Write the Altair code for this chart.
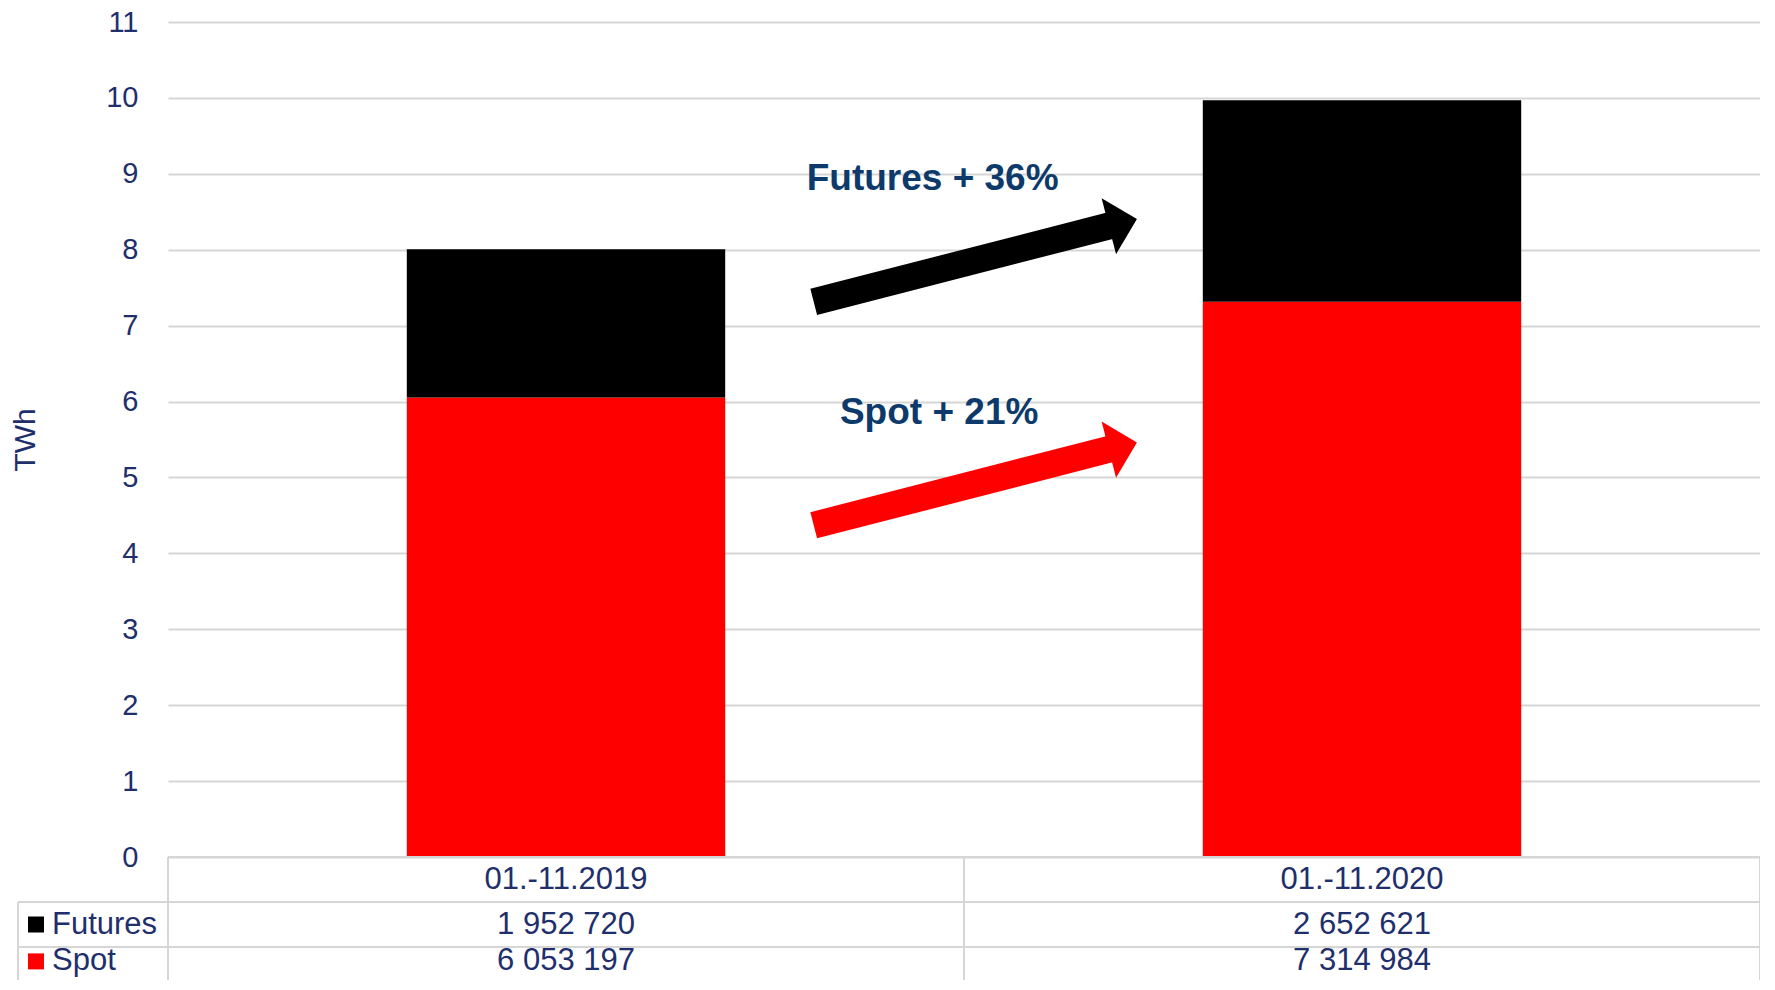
import altair as alt
import pandas as pd

# ---------------- data ----------------
periods = ["01.-11.2019", "01.-11.2020"]
series = ["Futures", "Spot"]
series_colors = ["#000000", "#ff0000"]
futures_mwh = [1952720, 2652621]
spot_mwh = [6053197, 7314984]
y_ticks = list(range(0, 12))

annot_text = ["Futures + 36%", "Spot + 21%"]
# annotation anchors in data units (x: fraction of plot width, y: TWh)
annot_x = [0.4803, 0.4844]
annot_y = [8.93, 5.85]
arrow_x0 = [0.4056, 0.4056]
arrow_y0 = [7.313, 4.370]
arrow_x1 = [0.5925, 0.5925]
arrow_y1 = [8.321, 5.378]
head_x = [0.5998, 0.5998]
head_y = [8.357, 5.414]

# ---------------- layout ----------------
W, H = 1592, 835
Y_MAX = 11
PX = H / Y_MAX          # pixels per TWh
ROW = 45 / PX           # table row height (in TWh units)
LABEL_LEFT = -150 / W   # left edge of the row-label column (fraction of width)
NAVY = "#1f2f6b"
GRID = "#d6d6d6"
FONT = "Liberation Sans"

# ---------------- frames ----------------
bar_rows = []
for i, p in enumerate(periods):
    bar_rows.append({"period": p, "series": "Spot", "value": spot_mwh[i] / 1e6, "order": 0})
    bar_rows.append({"period": p, "series": "Futures", "value": futures_mwh[i] / 1e6, "order": 1})
bar_df = pd.DataFrame(bar_rows)

def fmt(v):
    return f"{v:,}".replace(",", " ")

cell_x = [0.25, 0.75]
row_center = [-0.5 * ROW, -1.5 * ROW, -2.32 * ROW]
table_rows = []
for i in range(2):
    table_rows.append({"x": cell_x[i], "y": row_center[0], "t": periods[i]})
    table_rows.append({"x": cell_x[i], "y": row_center[1], "t": fmt(futures_mwh[i])})
    table_rows.append({"x": cell_x[i], "y": row_center[2], "t": fmt(spot_mwh[i])})
table_df = pd.DataFrame(table_rows)

label_df = pd.DataFrame({
    "x": [LABEL_LEFT + 34 / W] * 2,
    "sx": [LABEL_LEFT + 18 / W] * 2,
    "y": row_center[1:],
    "series": series,
})

hline_df = pd.DataFrame({
    "x": [0, LABEL_LEFT, LABEL_LEFT],
    "x2": [1, 1, 1],
    "y": [0, -ROW, -2 * ROW],
})
vline_df = pd.DataFrame({
    "x": [LABEL_LEFT, 0, 0.5, 1],
    "y": [-ROW, 0, 0, 0],
    "y2": [-3 * ROW] * 4,
})

arrow_df = pd.DataFrame({
    "series": series, "x0": arrow_x0, "y0": arrow_y0, "x1": arrow_x1, "y1": arrow_y1,
    "hx": head_x, "hy": head_y,
})
annot_df = pd.DataFrame({"t": annot_text, "x": annot_x, "y": annot_y})

# ---------------- encodings ----------------
yscale = alt.Scale(domain=[0, Y_MAX], nice=False, zero=False)
xscale = alt.Scale(domain=[0, 1], nice=False, zero=False)
cscale = alt.Scale(domain=series, range=series_colors)

def X(f):
    return alt.X(f, type="quantitative", scale=xscale, axis=None)

def Y(f):
    return alt.Y(f, type="quantitative", scale=yscale, axis=None)

bars = alt.Chart(bar_df).mark_bar().encode(
    x=alt.X("period:N", sort=periods, axis=None,
            scale=alt.Scale(paddingInner=0.6, paddingOuter=0.3)),
    y=alt.Y("value:Q", stack="zero", scale=yscale,
            axis=alt.Axis(values=y_ticks, title="TWh", grid=True, ticks=False, tickSize=0,
                          domain=False, labelPadding=30, labelFont=FONT, labelFontSize=29,
                          labelColor=NAVY, gridColor=GRID, gridWidth=2,
                          titleFont=FONT, titleFontSize=30, titleFontWeight="normal",
                          titleColor=NAVY, titlePadding=65)),
    color=alt.Color("series:N", scale=cscale, legend=None),
    order=alt.Order("order:Q"),
)

hlines = alt.Chart(hline_df).mark_rule(color=GRID, strokeWidth=2).encode(
    x=X("x"), x2="x2", y=Y("y"))
vlines = alt.Chart(vline_df).mark_rule(color=GRID, strokeWidth=2).encode(
    x=X("x"), y=Y("y"), y2="y2")

table_text = alt.Chart(table_df).mark_text(
    font=FONT, fontSize=31, color=NAVY, align="center", baseline="middle").encode(
    x=X("x"), y=Y("y"), text="t:N")

row_labels = alt.Chart(label_df).mark_text(
    font=FONT, fontSize=31, color=NAVY, align="left", baseline="middle").encode(
    x=X("x"), y=Y("y"), text="series:N")
row_marks = alt.Chart(label_df).mark_point(
    shape="square", size=256, filled=True, opacity=1, strokeWidth=0).encode(
    x=X("sx"), y=Y("y"), color=alt.Color("series:N", scale=cscale, legend=None))

shafts = alt.Chart(arrow_df).mark_rule(strokeWidth=27, strokeCap="butt").encode(
    x=X("x0"), y=Y("y0"), x2="x1", y2="y1",
    color=alt.Color("series:N", scale=cscale, legend=None))
heads = alt.Chart(arrow_df).mark_point(
    shape="M -0.5 -1 L 0.5 0 L -0.5 1 Z", size=3364, angle=345.6,
    filled=True, opacity=1, strokeWidth=0).encode(
    x=X("hx"), y=Y("hy"), color=alt.Color("series:N", scale=cscale, legend=None))

annots = alt.Chart(annot_df).mark_text(
    font=FONT, fontSize=37, fontWeight="bold", color="#0d3a6b",
    align="center", baseline="middle").encode(
    x=X("x"), y=Y("y"), text="t:N")

chart = alt.layer(
    bars, hlines, vlines, table_text, row_labels, row_marks, shafts, heads, annots
).resolve_scale(x="independent", y="independent", color="shared").properties(
    width=W, height=H,
    autosize=alt.AutoSizeParams(type="none"),
    padding={"left": 160, "top": 14, "right": 0, "bottom": 123},
    background="white",
).configure_view(stroke=None)

chart.save("out.html", embed_options={"renderer": "svg", "actions": False})
